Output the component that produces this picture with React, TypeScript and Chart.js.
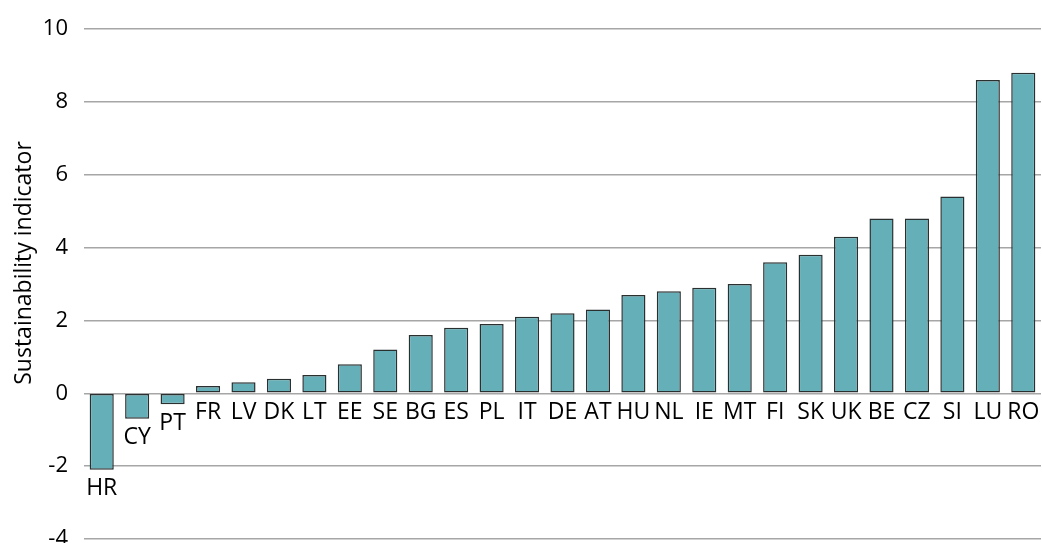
import React, { useEffect, useRef } from "react";
import { Chart, registerables } from "chart.js";

Chart.register(...registerables);

const categories = ["HR","CY","PT","FR","LV","DK","LT","EE","SE","BG","ES","PL","IT","DE","AT","HU","NL","IE","MT","FI","SK","UK","BE","CZ","SI","LU","RO"];
const values = [-2.1,-0.7,-0.3,0.2,0.3,0.4,0.5,0.8,1.2,1.6,1.8,1.9,2.1,2.2,2.3,2.7,2.8,2.9,3.0,3.6,3.8,4.3,4.8,4.8,5.4,8.6,8.8];
const yMin = -4;
const yMax = 10;
const yStep = 2;
const yTitle = "Sustainability indicator";

const FONT = "'Open Sans', Lato, sans-serif";

const labelPlugin = {
  id: "barLabels",
  afterDatasetsDraw(chart: any) {
    const ctx = chart.ctx;
    const meta = chart.getDatasetMeta(0);
    const yScale = chart.scales.y;
    const zero = yScale.getPixelForValue(0);
    ctx.save();
    ctx.font = `23px ${FONT}`;
    ctx.fillStyle = "#000";
    ctx.textAlign = "center";
    ctx.textBaseline = "middle";
    meta.data.forEach((bar: any, i: number) => {
      const v = values[i];
      const base = v < 0 ? yScale.getPixelForValue(v) : zero;
      ctx.fillText(categories[i], bar.x, base + 19);
    });
    // y-axis title
    ctx.translate(24, 263);
    ctx.rotate(-Math.PI / 2);
    ctx.font = `23px ${FONT}`;
    ctx.fillText(yTitle, 0, 0);
    ctx.restore();
  },
};

export default function App() {
  const ref = useRef<HTMLCanvasElement | null>(null);
  useEffect(() => {
    document.body.style.margin = "0";
    const chart = new Chart(ref.current!, {
      type: "bar",
      data: {
        labels: categories,
        datasets: [
          {
            data: values,
            backgroundColor: "#65AFB8",
            borderColor: "#2a2f30",
            borderWidth: 1.5,
            borderSkipped: false,
            barPercentage: 0.68,
            categoryPercentage: 1,
          },
        ],
      },
      options: {
        animation: false,
        responsive: false,
        layout: { padding: { top: 29, right: 1, bottom: 4, left: 0 } },
        plugins: { legend: { display: false }, tooltip: { enabled: false } },
        scales: {
          x: { display: false },
          y: {
            min: yMin,
            max: yMax,
            afterFit(scale: any) {
              scale.width = 84;
              scale.paddingTop = 0;
              scale.paddingBottom = 0;
            },
            ticks: {
              stepSize: yStep,
              font: { family: FONT, size: 22 },
              color: "#000",
              padding: 16,
            },
            grid: { color: "#a6a6a6", lineWidth: 1.5, drawTicks: false },
            border: { display: false },
            title: { display: false },
          },
        },
      },
      plugins: [labelPlugin],
    });
    return () => chart.destroy();
  }, []);
  return <canvas ref={ref} width={1042} height={543} style={{ display: "block" }} />;
}
